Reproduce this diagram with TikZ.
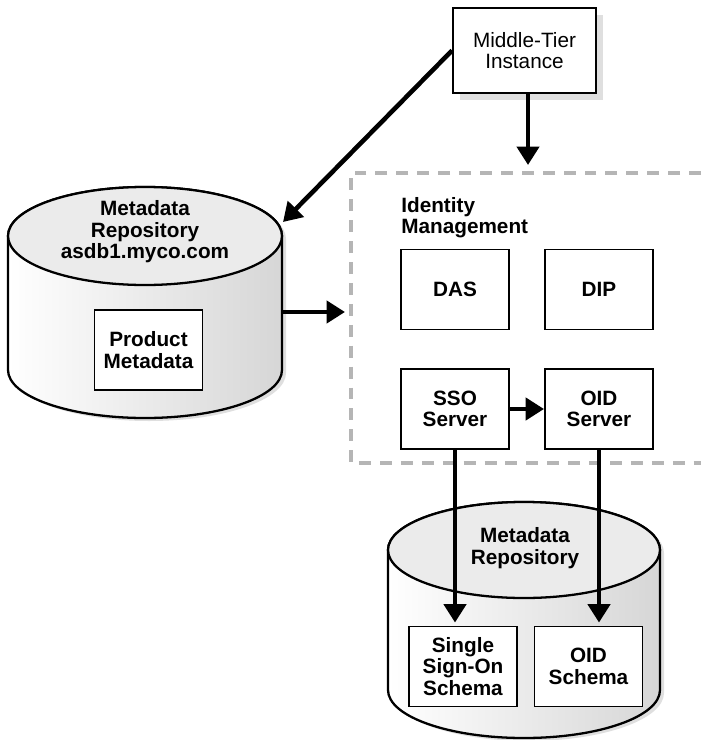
\documentclass[tikz,border=0pt]{standalone}
\usepackage{fontspec}
\setmainfont{Liberation Sans}
\usetikzlibrary{arrows.meta,shadows}

\begin{document}
\begin{tikzpicture}[x=0.02cm, y=-0.02cm,
        every node/.style={font=\fontsize{11.8}{12.2}\selectfont\bfseries, align=center},
        box/.style={draw, line width=1.1pt, fill=white, minimum width=2.16cm, minimum height=1.6cm, inner sep=0pt},
        flow/.style={line width=2.6pt, -{Triangle[length=10.5pt, width=12.5pt]}},
        imgroup/.style={draw=gray!58, line width=2.4pt, dash pattern=on 6.8pt off 5.1pt},
        drum/.style={line width=1.3pt, left color=white, right color=gray!32},
        lid/.style={line width=1.3pt, fill=gray!16}]
        \useasboundingbox (0,0) rectangle (701,740);

        % identity management group (open to the right)
        \draw[imgroup] (701,173) -- (351,173) -- (351,463) -- (701,463);

        % metadata repository, left
        \fill[gray!25, shift={(4,3)}] (8,236) -- (8,370) arc[start angle=180, end angle=0, x radius=137, y radius=48]
            -- (282,236) arc[start angle=0, end angle=-180, x radius=137, y radius=49] -- cycle;
        \draw[drum] (8,236) -- (8,370) arc[start angle=180, end angle=0, x radius=137, y radius=48]
            -- (282,236) arc[start angle=0, end angle=-180, x radius=137, y radius=49] -- cycle;
        \draw[lid] (145,236) ellipse[x radius=137, y radius=49];
        \node (repo) at (145,232) {Metadata\\Repository\\asdb1.myco.com};
        \node[box] (prodmeta) at (148.5,350) {Product\\Metadata};
        \coordinate (repo-in) at (283,222);
        \coordinate (repo-out) at (282,312);

        % metadata repository, bottom
        \fill[gray!25, shift={(4,3)}] (388,550) -- (388,690) arc[start angle=180, end angle=0, x radius=136, y radius=48]
            -- (660,550) arc[start angle=0, end angle=-180, x radius=136, y radius=48] -- cycle;
        \draw[drum] (388,550) -- (388,690) arc[start angle=180, end angle=0, x radius=136, y radius=48]
            -- (660,550) arc[start angle=0, end angle=-180, x radius=136, y radius=48] -- cycle;
        \draw[lid] (524,550) ellipse[x radius=136, y radius=48];
        \node (oidrepo) at (525,548) {Metadata\\Repository};
        \node[box] (ssoschema) at (463,666.5) {Single\\Sign-On\\Schema};
        \node[box] (oidschema) at (588.5,666.5) {OID\\Schema};

        % middle tier
        \node[box, font=\fontsize{11.8}{12.2}\selectfont, minimum width=2.86cm, minimum height=1.7cm,
            drop shadow={fill=gray!25, opacity=1, shadow xshift=4pt, shadow yshift=-4pt}] (mt) at (524.5,50.5) {Middle-Tier\\Instance};
        \coordinate (idm-top) at (528,165);
        \coordinate (idm-left) at (345,312);

        % identity management components
        \node[anchor=north west, align=left, inner sep=0pt] (idm) at (401,197) {Identity\\Management};
        \node[box] (das) at (455,289.5) {DAS};
        \node[box] (dip) at (599,289.5) {DIP};
        \node[box] (sso) at (455,409) {SSO\\Server};
        \node[box] (oid) at (599,409) {OID\\Server};

        % connections
        \draw[flow] (mt.west) -- (repo-in);
        \draw[flow] (idm-top |- mt.south) -- (idm-top);
        \draw[flow] (repo-out) -- (idm-left);
        \draw[flow] (sso) -- (oid);
        \draw[flow, shorten >=1.7pt] (sso.south) -- (sso.south |- ssoschema.north);
        \draw[flow, shorten >=1.7pt] (oid.south) -- (oid.south |- oidschema.north);
\end{tikzpicture}
\end{document}
